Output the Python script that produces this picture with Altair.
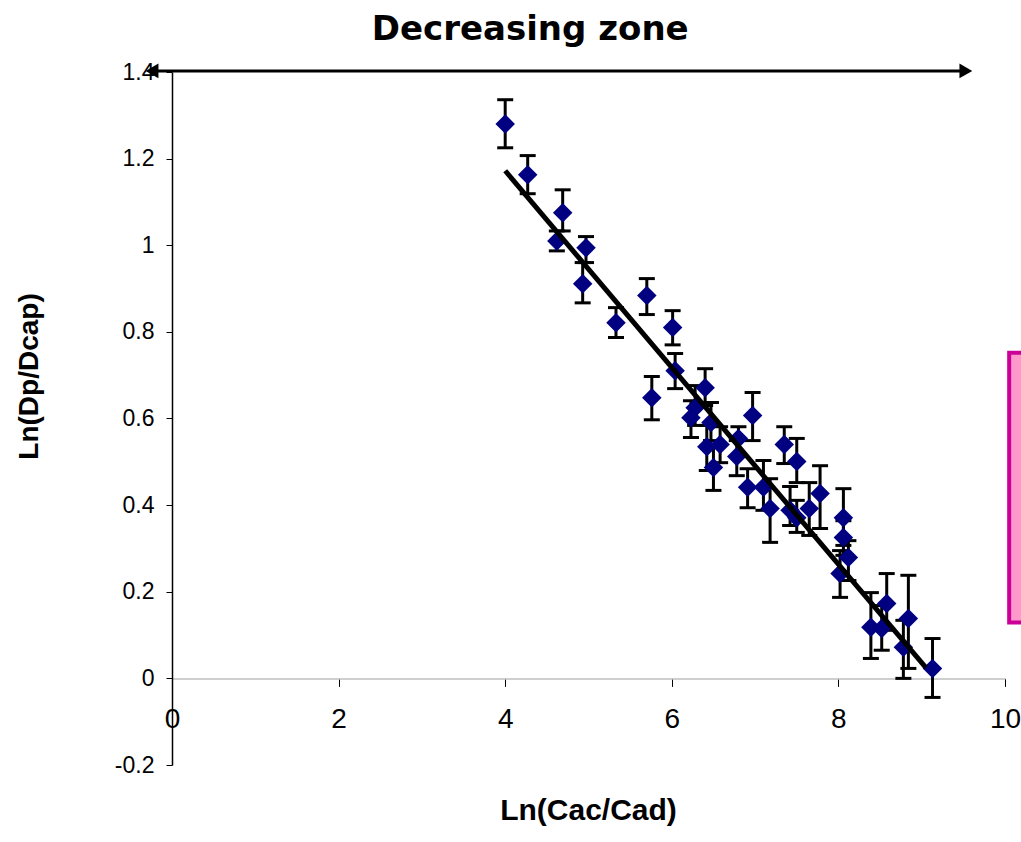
import altair as alt
import pandas as pd

# ---- data ----
ln_cac_cad = [4.00, 4.27, 4.69, 4.62, 4.97, 4.93, 5.33, 5.70, 6.01, 5.76,
              6.04, 6.40, 6.28, 6.23, 6.47, 6.42, 6.58, 6.50, 6.80, 6.78,
              6.97, 6.91, 7.10, 7.18, 7.35, 7.50, 7.42, 7.50, 7.65, 7.78,
              8.06, 8.06, 8.12, 8.02, 8.39, 8.52, 8.58, 8.84, 8.78, 9.13]
ln_dp_dcap = [1.280, 1.163, 1.075, 1.010, 0.994, 0.911, 0.821, 0.884, 0.810, 0.648,
              0.710, 0.671, 0.625, 0.602, 0.591, 0.535, 0.540, 0.487, 0.554, 0.512,
              0.607, 0.441, 0.441, 0.392, 0.540, 0.501, 0.388, 0.371, 0.392, 0.427,
              0.371, 0.325, 0.279, 0.242, 0.118, 0.115, 0.173, 0.138, 0.072, 0.023]
err_high = [1.336, 1.207, 1.128, 1.033, 1.020, 0.960, 0.856, 0.923, 0.849, 0.697,
            0.750, 0.715, 0.676, 0.641, 0.637, 0.584, 0.581, 0.537, 0.581, 0.549,
            0.660, 0.484, 0.503, 0.461, 0.581, 0.554, 0.443, 0.411, 0.452, 0.491,
            0.438, 0.364, 0.318, 0.295, 0.198, 0.168, 0.242, 0.238, 0.134, 0.092]
err_low = [1.225, 1.119, 1.033, 0.987, 0.960, 0.867, 0.787, 0.840, 0.770, 0.597,
           0.669, 0.630, 0.584, 0.556, 0.549, 0.480, 0.498, 0.434, 0.514, 0.468,
           0.549, 0.394, 0.388, 0.314, 0.496, 0.452, 0.353, 0.337, 0.330, 0.346,
           0.307, 0.284, 0.226, 0.187, 0.046, 0.065, 0.111, 0.023, 0.000, -0.044]

trend_x = [4.0, 9.05]
trend_y = [1.172, 0.025]

x_ticks = [0, 2, 4, 6, 8, 10]
y_ticks = [-0.2, 0, 0.2, 0.4, 0.6, 0.8, 1.0, 1.2, 1.4]

zone_label = "Decreasing zone"
zone_arrow_x = [-0.24, 9.53]
zone_arrow_y = [1.4025, 1.4025]
zone_label_pos = [4.30, 1.497]
box_x = [10.05, 10.50]
box_y = [0.752, 0.129]

df = pd.DataFrame({"x": ln_cac_cad, "y": ln_dp_dcap, "hi": err_high, "lo": err_low})
trend = pd.DataFrame({"x": trend_x, "y": trend_y})
arrow = pd.DataFrame({"x": zone_arrow_x, "y": zone_arrow_y})
heads = pd.DataFrame({"x": zone_arrow_x, "y": zone_arrow_y,
                      "shape": ["triangle-left", "triangle-right"]})
label = pd.DataFrame({"x": [zone_label_pos[0]], "y": [zone_label_pos[1]], "t": [zone_label]})
box = pd.DataFrame({"x": [box_x[0]], "x2": [box_x[1]], "y": [box_y[0]], "y2": [box_y[1]]})

xs = alt.Scale(domain=[0, 10], nice=False, zero=False)
ys = alt.Scale(domain=[-0.2, 1.4], nice=False, zero=False)

FONT = "Liberation Sans, Arial, Helvetica, sans-serif"
NARROW = "Liberation Sans Narrow, Arial Narrow, Liberation Sans, sans-serif"

x_axis = alt.Axis(values=x_ticks, title="Ln(Cac/Cad)", grid=False,
                  offset=-86.6, domainColor="#bfbfbf", domainWidth=1.5,
                  tickColor="black", tickSize=8, tickWidth=1,
                  labelFontSize=28, labelFont=NARROW, labelColor="black",
                  labelPadding=19, labelFlush=False, labelOverlap=False,
                  labelExpr="'' + round(datum.value)",
                  titleFont=FONT, titleFontSize=30, titleFontWeight="bold",
                  titleColor="black", titleX=416, titleY=132,
                  titleBaseline="middle", titleAlign="center")
y_axis = alt.Axis(values=y_ticks, title="Ln(Dp/Dcap)", grid=False,
                  domainColor="black", domainWidth=1.5,
                  tickColor="black", tickSize=6, tickWidth=1,
                  labelFontSize=23, labelFont=FONT, labelColor="black",
                  labelPadding=12, labelFlush=False, labelOverlap=False,
                  labelExpr="'' + round(datum.value * 10) / 10",
                  titleFont=FONT, titleFontSize=28, titleFontWeight="bold",
                  titleColor="black", titleX=-143, titleY=304,
                  titleBaseline="middle", titleAlign="center", titleAngle=-90)

base = alt.Chart(df)

bars = base.mark_rule(color="black", strokeWidth=3).encode(
    x=alt.X("x:Q", scale=xs, axis=x_axis),
    y=alt.Y("lo:Q", scale=ys, axis=y_axis),
    y2="hi:Q",
)
cap_hi = base.mark_tick(color="black", orient="horizontal", size=16, thickness=3,
                        opacity=1).encode(
    x=alt.X("x:Q", scale=xs), y=alt.Y("hi:Q", scale=ys))
cap_lo = base.mark_tick(color="black", orient="horizontal", size=16, thickness=3,
                        opacity=1).encode(
    x=alt.X("x:Q", scale=xs), y=alt.Y("lo:Q", scale=ys))
pts = base.mark_point(shape="diamond", filled=True, color="#000080",
                      opacity=1, size=380).encode(
    x=alt.X("x:Q", scale=xs), y=alt.Y("y:Q", scale=ys))
line = alt.Chart(trend).mark_line(color="black", strokeWidth=5).encode(
    x=alt.X("x:Q", scale=xs), y=alt.Y("y:Q", scale=ys))

arrow_line = alt.Chart(arrow).mark_line(color="black", strokeWidth=3).encode(
    x=alt.X("x:Q", scale=xs), y=alt.Y("y:Q", scale=ys))
arrow_heads = alt.Chart(heads).mark_point(filled=True, color="black", opacity=1,
                                          size=220).encode(
    x=alt.X("x:Q", scale=xs), y=alt.Y("y:Q", scale=ys),
    shape=alt.Shape("shape:N", scale=None, legend=None))
zone_text = alt.Chart(label).mark_text(
    font="DejaVu Sans", fontSize=34,
    fontWeight="bold", color="black", align="center", baseline="middle").encode(
    x=alt.X("x:Q", scale=xs), y=alt.Y("y:Q", scale=ys), text="t:N")
pink_box = alt.Chart(box).mark_rect(fill="#FF99CC", stroke="#CC0099",
                                    strokeWidth=4).encode(
    x=alt.X("x:Q", scale=xs), x2="x2:Q",
    y=alt.Y("y:Q", scale=ys), y2="y2:Q")

chart = alt.layer(
    bars, cap_hi, cap_lo, pts, line, arrow_line, arrow_heads, zone_text, pink_box
).properties(
    width=833, height=693,
    autosize=alt.AutoSizeParams(type="none"),
    padding={"left": 172, "top": 72, "right": 16, "bottom": 72},
    background="white",
).configure_view(stroke=None)

chart.save("out.html", embed_options={"renderer": "svg", "actions": False})
